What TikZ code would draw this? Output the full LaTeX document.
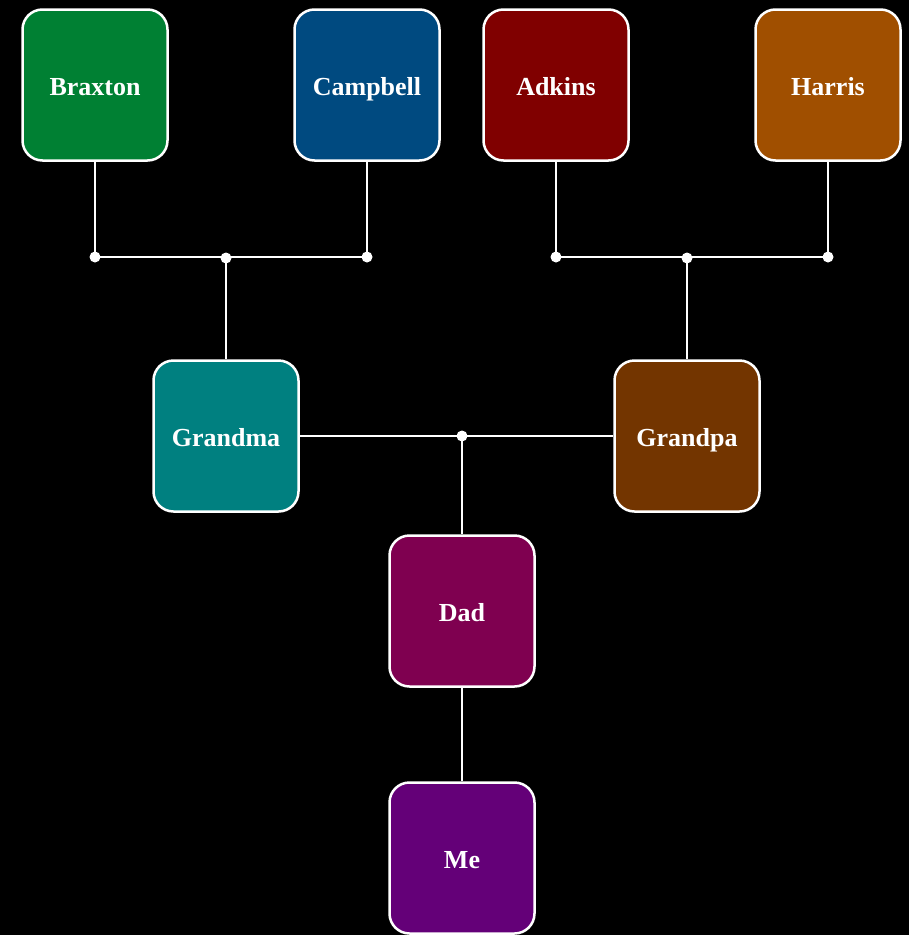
\documentclass[tikz,border=0pt]{standalone}
\usepackage{fontspec}
\setmainfont{Liberation Serif}
\definecolor{cBraxton}{HTML}{008033}
\definecolor{cCampbell}{HTML}{004A80}
\definecolor{cAdkins}{HTML}{800000}
\definecolor{cHarris}{HTML}{A04F00}
\definecolor{cGrandma}{HTML}{008080}
\definecolor{cGrandpa}{HTML}{733500}
\definecolor{cDad}{HTML}{7F0050}
\definecolor{cMe}{HTML}{640078}
\begin{document}
\begin{tikzpicture}[x=1pt,y=-1pt]
\tikzset{
  person/.style={draw=white, line width=2.5pt, rounded corners=20pt,
    minimum width=145pt, minimum height=151pt, text=white, inner sep=0pt,
    text height=22pt, text depth=2pt,
    font=\fontsize{26}{30}\selectfont\bfseries},
  link/.style={draw=white, line width=2pt},
  dotmark/.style={circle, fill=white, inner sep=0pt, minimum size=11pt}
}
\fill[black] (0,0) rectangle (909,935);
\useasboundingbox (0,0) rectangle (909,935);
% people
\node[person, fill=cBraxton]  (braxton)  at (95,85)  {Braxton};
\node[person, fill=cCampbell] (campbell) at (367,85) {Campbell};
\node[person, fill=cAdkins]   (adkins)   at (556,85) {Adkins};
\node[person, fill=cHarris]   (harris)   at (828,85) {Harris};
\node[person, fill=cGrandma]  (grandma)  at (226,436) {Grandma};
\node[person, fill=cGrandpa]  (grandpa)  at (687,436) {Grandpa};
\node[person, fill=cDad]      (dad)      at (462,611) {Dad};
\node[person, fill=cMe]       (me)       at (462,858) {Me};
% junctions
\coordinate (b1) at (braxton.south |- 0,257);
\coordinate (b2) at (campbell.south |- 0,257);
\coordinate (bm) at (grandma.north |- 0,258);
\coordinate (a1) at (adkins.south |- 0,257);
\coordinate (a2) at (harris.south |- 0,257);
\coordinate (am) at (grandpa.north |- 0,258);
\coordinate (gm) at (dad.north |- 0,436);
% connectors
\draw[link] (braxton.south) -- (b1) -- (b2) -- (campbell.south);
\draw[link] (bm) -- (grandma.north);
\draw[link] (adkins.south) -- (a1) -- (a2) -- (harris.south);
\draw[link] (am) -- (grandpa.north);
\draw[link] (grandma.east) -- (gm) -- (grandpa.west);
\draw[link] (gm) -- (dad.north);
\draw[link] (dad.south) -- (me.north);
% dots
\foreach \p in {b1,b2,bm,a1,a2,am,gm}
  \node[dotmark] (dot\p) at (\p) {};
\end{tikzpicture}
\end{document}
